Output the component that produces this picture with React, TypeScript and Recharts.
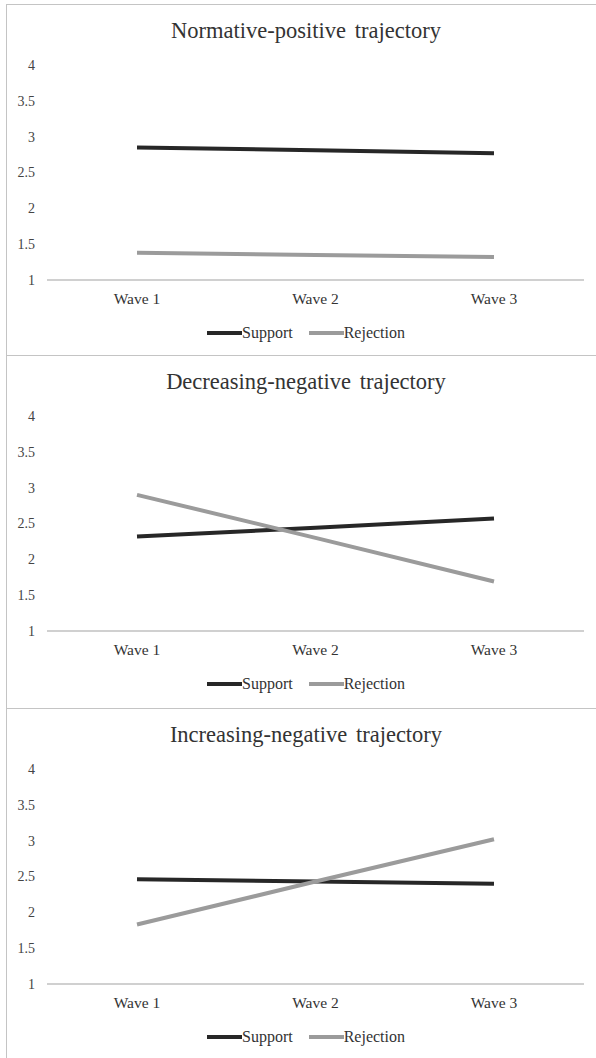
import { LineChart, Line, XAxis, YAxis, Legend } from "recharts";

const waves = ["Wave 1", "Wave 2", "Wave 3"];
const yTicks = [1, 1.5, 2, 2.5, 3, 3.5, 4];
const seriesNames = ["Support", "Rejection"];

const titles = [
  "Normative-positive trajectory",
  "Decreasing-negative trajectory",
  "Increasing-negative trajectory",
];

const normativeSupport = [2.85, 2.81, 2.77];
const normativeRejection = [1.38, 1.35, 1.32];
const decreasingSupport = [2.32, 2.44, 2.57];
const decreasingRejection = [2.9, 2.3, 1.69];
const increasingSupport = [2.46, 2.43, 2.4];
const increasingRejection = [1.83, 2.43, 3.02];

const supportSeries = [normativeSupport, decreasingSupport, increasingSupport];
const rejectionSeries = [normativeRejection, decreasingRejection, increasingRejection];

const panelTops = [4, 355, 708];

const FONT = '"Liberation Serif", "Times New Roman", serif';
const SUPPORT_COLOR = "#272727";
const REJECTION_COLOR = "#9b9b9b";
const BORDER = "#c4c4c4";

function LegendRow(props: any) {
  const items = [...(props.payload || [])].sort(
    (a: any, b: any) => seriesNames.indexOf(a.value) - seriesNames.indexOf(b.value)
  );
  return (
    <div style={{ display: "flex", justifyContent: "center", alignItems: "center", height: 20 }}>
      {items.map((it: any, i: number) => (
        <div key={i} style={{ display: "flex", alignItems: "center", marginLeft: i ? 16 : 0 }}>
          <span style={{ display: "inline-block", width: 35, height: 4, background: it.color }} />
          <span style={{ fontFamily: FONT, fontSize: 16, color: "#333", lineHeight: "20px" }}>{it.value}</span>
        </div>
      ))}
    </div>
  );
}

function Panel({ idx }: { idx: number }) {
  const data = waves.map((w, i) => ({
    wave: w,
    Support: supportSeries[idx][i],
    Rejection: rejectionSeries[idx][i],
  }));
  return (
    <div
      style={{
        position: "absolute",
        left: 6,
        top: panelTops[idx],
        width: 600,
        height: 352,
        borderTop: `1px solid ${BORDER}`,
        borderLeft: `1px solid ${BORDER}`,
        background: "#fff",
      }}
    >
      <div
        style={{
          position: "absolute",
          top: 13,
          left: 0,
          width: 598,
          textAlign: "center",
          fontFamily: FONT,
          fontSize: 22.5,
          wordSpacing: 3,
          color: "#333",
          lineHeight: "26px",
        }}
      >
        {titles[idx]}
      </div>
      <LineChart width={598} height={350} data={data} margin={{ top: 60, right: 21, left: 0, bottom: 25 }}>
        <XAxis
          dataKey="wave"
          height={30}
          padding={{ left: 90, right: 90 }}
          tickLine={false}
          tickMargin={7}
          axisLine={{ stroke: "#c0c0c0", strokeWidth: 1.5 }}
          tick={{ fontFamily: FONT, fontSize: 15.5, fill: "#333" }}
        />
        <YAxis
          domain={[1, 4]}
          ticks={yTicks}
          width={40}
          axisLine={false}
          tickLine={false}
          tickMargin={6}
          tick={{ fontFamily: FONT, fontSize: 14, fill: "#444" }}
        />
        <Legend
          content={<LegendRow />}
          wrapperStyle={{ top: 318, left: 0, width: 598 }}
        />
        <Line
          dataKey="Support"
          stroke={SUPPORT_COLOR}
          strokeWidth={4}
          dot={false}
          activeDot={false}
          isAnimationActive={false}
        />
        <Line
          dataKey="Rejection"
          stroke={REJECTION_COLOR}
          strokeWidth={4}
          dot={false}
          activeDot={false}
          isAnimationActive={false}
        />
      </LineChart>
    </div>
  );
}

export default function App() {
  return (
    <div
      style={{
        position: "absolute",
        left: 0,
        top: 0,
        width: 596,
        height: 1058,
        overflow: "hidden",
        background: "#fff",
      }}
    >
      {titles.map((_, i) => (
        <Panel key={i} idx={i} />
      ))}
    </div>
  );
}
